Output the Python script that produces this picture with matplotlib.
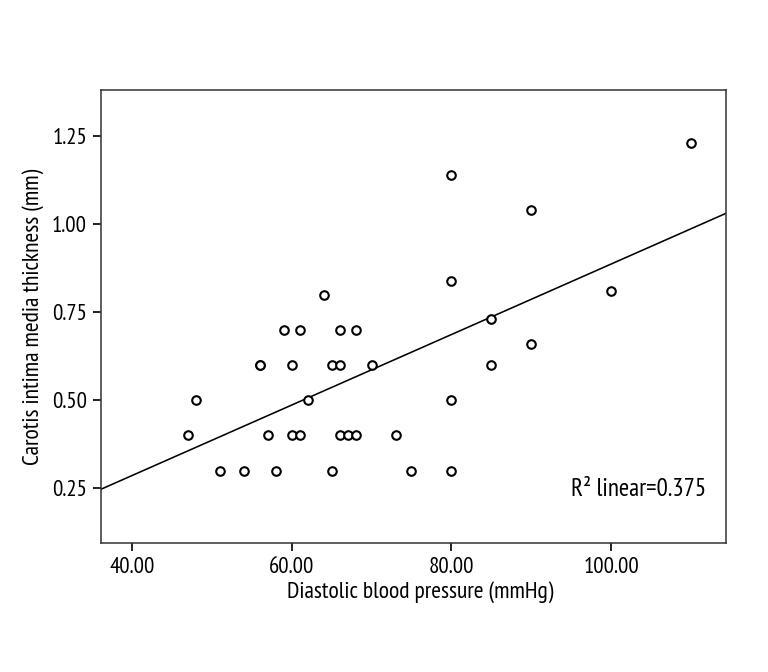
import numpy as np
import matplotlib
matplotlib.use("Agg")
import matplotlib.pyplot as plt
from matplotlib.ticker import FixedLocator, FormatStrFormatter

plt.rcParams['font.family'] = ['PT Sans Narrow', 'Roboto Condensed', 'DejaVu Sans']

dbp = [47, 48, 51, 54, 56, 56, 57, 58, 59, 60, 60, 61, 61, 62, 64, 65, 65,
       66, 66, 66, 67, 68, 68, 70, 73, 75, 80, 80, 80, 80, 85, 85, 90, 90,
       100, 110]
cimt = [0.40, 0.50, 0.30, 0.30, 0.60, 0.60, 0.40, 0.30, 0.70, 0.60, 0.40,
        0.70, 0.40, 0.50, 0.80, 0.60, 0.30, 0.60, 0.70, 0.40, 0.40, 0.40,
        0.70, 0.60, 0.40, 0.30, 1.14, 0.84, 0.50, 0.30, 0.73, 0.60, 1.04,
        0.66, 0.81, 1.23]
x_ticks = [40, 60, 80, 100]
y_ticks = [0.25, 0.50, 0.75, 1.00, 1.25]
r2_label = "R\u00b2 linear=0.375"

x = np.array(dbp, dtype=float)
y = np.array(cimt, dtype=float)

fig = plt.figure(figsize=(7.68, 6.72), dpi=100)
ax = fig.add_axes([0.1315, 0.192, 0.8138, 0.674])

xlim = (36.1, 114.4)
ylim = (0.0946, 1.3815)
ax.set_xlim(*xlim)
ax.set_ylim(*ylim)

slope, intercept = np.polyfit(x, y, 1)
xx = np.array(xlim)
ax.plot(xx, slope * xx + intercept, color='black', lw=1.15, zorder=2)

ax.scatter(x, y, s=38, facecolors='white', edgecolors='black',
           linewidths=1.5, zorder=3)

ax.xaxis.set_major_locator(FixedLocator(x_ticks))
ax.yaxis.set_major_locator(FixedLocator(y_ticks))
ax.xaxis.set_major_formatter(FormatStrFormatter('%.2f'))
ax.yaxis.set_major_formatter(FormatStrFormatter('%.2f'))
ax.tick_params(axis='both', direction='out', length=6, width=1.2,
               labelsize=16.5, colors='black', pad=4)
for sp in ax.spines.values():
    sp.set_linewidth(1.1)
    sp.set_color('#333333')

ax.set_xlabel('Diastolic blood pressure (mmHg)', fontsize=17, labelpad=6)
ax.xaxis.set_label_coords(0.51, -0.085)
ax.set_ylabel('Carotis intima media thickness (mm)', fontsize=17, labelpad=6)

ax.text(0.968, 0.092, r2_label, transform=ax.transAxes, ha='right',
        va='bottom', fontsize=18)

fig.savefig('out.png', dpi=100)
